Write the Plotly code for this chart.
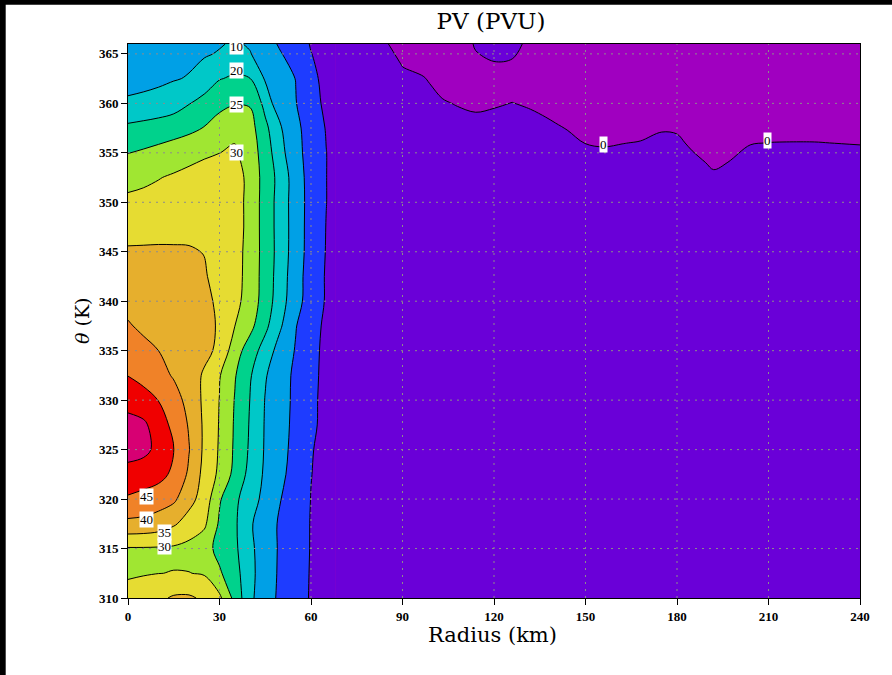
import plotly.graph_objects as go

# ---------------- data (PV in PVU) ----------------
radius_left = [0, 5, 10, 15, 20, 25, 30, 35, 40, 45, 50, 55, 60, 65, 70]
theta_left = [310, 312.5, 315, 317.5, 320, 322.5, 325, 327.5, 330, 332.5, 335, 337.5,
              340, 342.5, 345, 347.5, 350, 352.5, 355, 357.5, 360, 362.5, 365, 366]
pv_left = [
    [31.5, 32.5, 34.0, 35.6, 35.7, 34.2, 31.0, 23.5, 16.0, 12.2, 9.0, 7.0, 4.6, 3.5, 3.2],
    [29.5, 29.7, 29.95, 30.1, 30.1, 29.6, 25.6, 22.0, 16.3, 12.5, 9.2, 7.0, 4.7, 3.5, 3.2],
    [29.6, 29.6, 29.5, 29.3, 28.5, 26.8, 23.6, 21.0, 16.0, 12.6, 9.3, 7.1, 4.8, 3.6, 3.2],
    [38.8, 38.5, 37.6, 35.6, 33.0, 30.9, 24.3, 20.8, 15.6, 12.4, 9.3, 7.2, 4.8, 3.6, 3.2],
    [44.4, 43.6, 42.3, 40.9, 36.6, 33.0, 25.5, 21.2, 16.8, 13.8, 10.1, 7.8, 4.9, 3.6, 3.2],
    [48.1, 47.3, 46.6, 44.0, 39.2, 33.5, 29.0, 23.6, 18.5, 14.2, 11.0, 8.2, 5.1, 3.6, 3.2],
    [52.0, 51.3, 48.7, 45.1, 40.2, 34.1, 29.5, 24.3, 19.3, 14.5, 11.5, 8.5, 5.3, 3.6, 3.2],
    [51.5, 50.9, 47.7, 43.6, 39.6, 34.2, 29.7, 24.5, 19.6, 14.6, 11.7, 8.8, 5.9, 3.7, 3.2],
    [48.4, 47.0, 44.9, 41.8, 38.6, 34.0, 29.9, 24.8, 19.9, 14.8, 11.8, 9.0, 6.0, 3.7, 3.2],
    [44.9, 43.4, 41.5, 39.6, 37.0, 34.5, 30.3, 25.4, 20.5, 15.4, 11.9, 9.1, 6.2, 3.8, 3.2],
    [42.7, 41.2, 40.0, 38.8, 37.4, 36.0, 34.2, 27.2, 22.6, 17.8, 12.8, 9.7, 6.5, 3.8, 3.2],
    [40.4, 39.2, 38.5, 37.8, 37.0, 36.1, 34.6, 30.05, 26.4, 21.2, 15.5, 10.2, 7.0, 4.0, 3.2],
    [38.7, 38.5, 38.1, 37.5, 36.7, 35.9, 34.3, 31.5, 27.8, 22.8, 17.0, 11.8, 7.7, 4.6, 3.2],
    [37.1, 37.0, 36.9, 36.6, 36.2, 35.4, 33.5, 32.0, 28.0, 23.0, 17.5, 12.0, 7.8, 4.6, 3.2],
    [35.5, 35.5, 35.5, 35.4, 35.3, 34.9, 33.6, 32.2, 28.0, 23.2, 17.8, 12.5, 8.0, 4.8, 3.2],
    [33.4, 33.6, 33.8, 34.0, 34.1, 34.0, 33.8, 32.6, 28.2, 23.0, 17.8, 12.6, 8.0, 4.9, 3.2],
    [31.1, 31.4, 31.8, 32.3, 32.8, 33.3, 33.6, 32.5, 28.2, 23.0, 17.8, 12.5, 8.2, 5.05, 3.2],
    [28.3, 29.0, 29.8, 30.6, 31.5, 32.3, 33.0, 33.0, 28.0, 23.3, 18.0, 12.5, 8.0, 5.05, 3.2],
    [24.9, 25.6, 26.4, 27.3, 28.2, 29.2, 29.95, 30.7, 27.5, 22.8, 16.3, 12.0, 7.5, 5.05, 3.2],
    [21.0, 21.6, 22.3, 23.0, 23.9, 25.2, 27.5, 28.8, 27.0, 21.2, 15.5, 11.5, 7.2, 4.8, 3.0],
    [15.8, 16.2, 16.7, 17.8, 19.8, 21.8, 23.5, 24.7, 24.6, 18.5, 10.9, 10.2, 6.5, 4.2, 3.0],
    [13.2, 13.6, 14.1, 14.7, 15.3, 17.0, 19.8, 20.6, 20.1, 14.5, 12.0, 9.9, 6.0, 3.9, 3.0],
    [12.3, 12.6, 13.0, 13.5, 14.0, 14.6, 15.3, 17.0, 15.2, 13.0, 10.3, 7.8, 5.1, 3.6, 3.0],
    [11.5, 11.7, 12.0, 12.5, 13.2, 14.0, 14.7, 15.5, 14.6, 12.2, 9.3, 7.3, 4.7, 3.5, 3.0],
]

radius_right = [68, 80, 85, 90, 97, 103, 108, 114, 120, 126, 132, 137, 144, 150, 156,
                162, 168, 175, 180, 185, 192, 197, 204, 210, 225, 240]
theta_right = [310, 350, 352, 354, 356, 358, 360, 362, 364, 366]
pv_right = [
    [3, 3, 3, 3, 3, 3, 3, 3, 3, 3, 3, 3, 3, 3, 3, 3, 3, 3, 3, 3, 3, 3, 3, 3, 3, 3],
    [3, 3, 3, 3, 3, 3, 3, 3, 3, 3, 3, 3, 3, 3, 3, 3, 3, 3, 3, 3, 3, 3, 3, 3, 3, 3],
    [3, 3, 3, 3, 3, 3, 3, 3, 3, 3, 3, 3, 3, 3, 3, 3, 3, 3, 3, 3, 1.3, 2.1, 3, 3, 3, 3],
    [3, 3, 3, 3, 3, 3, 3, 3, 3, 3, 3, 3, 3, 1.9, 1.6, 1.9, 2.2, 3, 2.9, 1.2, -0.7, 0.1, 1.8, 2.05, 2.1, 1.8],
    [3, 3, 3, 3, 3, 3, 3, 3, 3, 3, 3, 2.6, 1.3, -0.1, -0.4, -0.1, 0.2, 1.1, 0.9, -0.8, -2.7, -1.9, -0.2, 0.05, 0.1, -0.2],
    [3, 3, 3, 3, 3, 2.5, 1.7, 1.1, 1.5, 2.1, 1.4, 0.6, -0.7, -2.1, -2.4, -2.1, -1.8, -0.9, -1.1, -2.8, -3, -3, -2.2, -1.95, -1.9, -2.2],
    [3, 3, 3, 3, 2.7, 0.5, -0.3, -0.9, -0.5, 0.1, -0.6, -1.4, -2.7, -3, -3, -3, -3, -2.9, -3, -3, -3, -3, -3, -3, -3, -3],
    [3, 3, 3, 1.7, 0.7, -1.5, -2.3, -2.9, -2.5, -1.9, -2.6, -3, -3, -3, -3, -3, -3, -3, -3, -3, -3, -3, -3, -3, -3, -3],
    [3, 3, 2.2, -0.3, -1.3, -3, -3, -1.0, -0.2, -0.4, -3, -3, -3, -3, -3, -3, -3, -3, -3, -3, -3, -3, -3, -3, -3, -3],
    [3, 1, 0.2, -2.3, -3, -3, -3, 0.5, 1.5, 1.2, -1.0, -3, -3, -3, -3, -3, -3, -3, -3, -3, -3, -3, -3, -3, -3, -3],
]

level_colors = ["#A000C0", "#6A00D8", "#1E3CFF", "#00A0E6", "#00C8C8", "#00D28C",
                "#A0E632", "#E6DC32", "#E6AF2D", "#F08228", "#F00000", "#D70073"]

x_ticks = [0, 30, 60, 90, 120, 150, 180, 210, 240]
y_ticks = [310, 315, 320, 325, 330, 335, 340, 345, 350, 355, 360, 365]

label_texts = ["10", "20", "25", "30", "45", "40", "35", "30", "0", "0"]
label_r = [35.7, 35.7, 35.7, 35.7, 5.9, 5.9, 12.1, 12.1, 156.0, 209.8]
label_theta = [365.7, 363.3, 359.9, 355.0, 320.3, 317.9, 316.6, 315.2, 355.8, 356.2]

# ---------------- figure ----------------
W, H = 892, 675
ML, MR, MT, MB = 128, 32, 44, 77
PW, PH = W - ML - MR, H - MT - MB

n = len(level_colors) - 1
cscale = [[i / n, c] for i, c in enumerate(level_colors)]
contours = dict(start=0, end=50, size=5, coloring="fill", showlines=True)

fig = go.Figure()
for xs, ys, zs in [(radius_left, theta_left, pv_left), (radius_right, theta_right, pv_right)]:
    fig.add_trace(go.Contour(
        x=xs, y=ys, z=zs, colorscale=cscale, zmin=-2.5, zmax=52.5,
        autocontour=False, contours=contours,
        line=dict(color="black", width=1, smoothing=1),
        showscale=False, hoverinfo="skip"))

grid_line = dict(color="#8c8c8c", width=1, dash="2px,5px")
shapes = []
for xv in x_ticks[1:-1]:
    shapes.append(dict(type="line", xref="x", yref="paper", x0=xv, x1=xv, y0=0, y1=1,
                       line=grid_line, layer="above"))
for yv in y_ticks[1:]:
    shapes.append(dict(type="line", xref="paper", yref="y", x0=0, x1=1, y0=yv, y1=yv,
                       line=grid_line, layer="above"))
# black border strips of the original image (top and left)
shapes.append(dict(type="rect", xref="paper", yref="paper",
                   x0=-ML / PW, x1=(W - ML) / PW, y0=1 + (MT - 4.7) / PH, y1=1 + MT / PH,
                   fillcolor="black", line=dict(width=0), layer="above"))
shapes.append(dict(type="rect", xref="paper", yref="paper",
                   x0=-ML / PW, x1=(5.7 - ML) / PW, y0=-MB / PH, y1=1 + MT / PH,
                   fillcolor="black", line=dict(width=0), layer="above"))

annotations = []
for t, rx, ty in zip(label_texts, label_r, label_theta):
    annotations.append(dict(x=rx, y=ty, xref="x", yref="y", text=t, showarrow=False,
                            bgcolor="white", borderpad=0,
                            font=dict(family="Liberation Serif", size=13, color="black")))
annotations.append(dict(x=(492 - ML) / PW, y=(MT + PH - 635) / PH, xref="paper", yref="paper",
                        text="Radius (km)", showarrow=False, xanchor="center", yanchor="middle",
                        font=dict(family="DejaVu Serif", size=21, color="black")))
annotations.append(dict(x=(82 - ML) / PW, y=0.5, xref="paper", yref="paper",
                        text="<i>θ</i> (K)", showarrow=False, textangle=-90,
                        xanchor="center", yanchor="middle",
                        font=dict(family="DejaVu Serif", size=19, color="black")))

axis_common = dict(showline=True, linecolor="black", linewidth=1, mirror=True,
                   ticks="outside", ticklen=6, tickcolor="black", showgrid=False,
                   zeroline=False, layer="above traces",
                   tickfont=dict(family="Liberation Serif", size=13, color="black", weight="bold"))

fig.update_layout(
    width=W, height=H, margin=dict(l=ML, r=MR, t=MT, b=MB),
    paper_bgcolor="white", plot_bgcolor="white",
    title=dict(text="PV (PVU)", x=(491 - ML) / PW, xref="paper", xanchor="center",
               y=1 - 21 / H, yref="container", yanchor="middle",
               font=dict(family="DejaVu Serif", size=23, color="black")),
    xaxis=dict(range=[0, 240], tickvals=x_ticks, **axis_common),
    yaxis=dict(range=[310, 366], tickvals=y_ticks, **axis_common),
    shapes=shapes, annotations=annotations, showlegend=False,
)

fig.write_html("out.html", config={"displayModeBar": False})
